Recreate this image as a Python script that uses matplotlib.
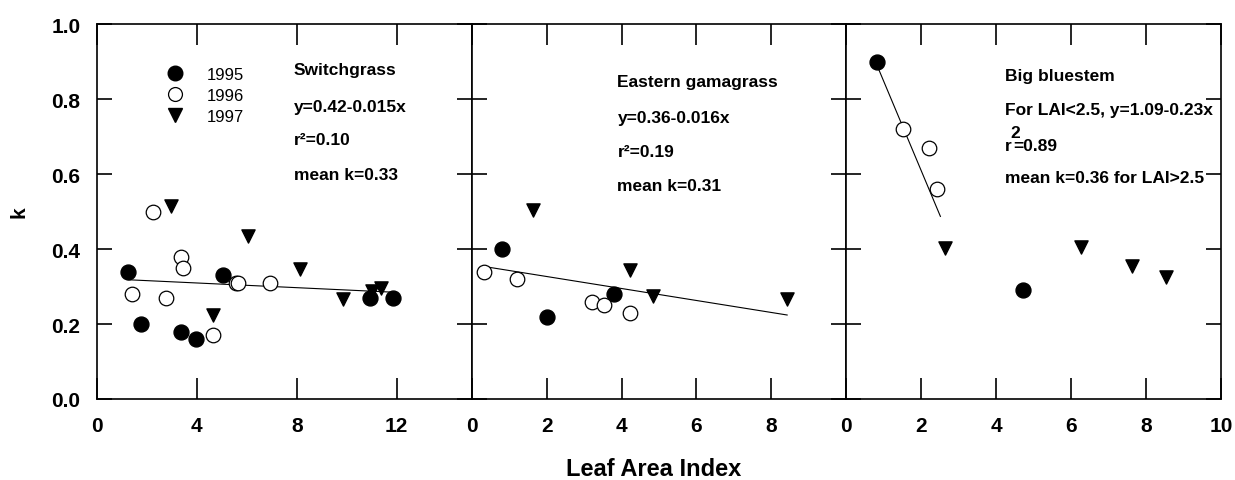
import matplotlib
matplotlib.use("Agg")
import matplotlib.pyplot as plt
from matplotlib.lines import Line2D

plt.rcParams['font.family'] = ['Liberation Sans', 'DejaVu Sans']

# Switchgrass
sg_x95 = [1.25, 1.75, 3.35, 3.96, 5.03, 10.92, 11.85]
sg_k95 = [0.34, 0.20, 0.18, 0.16, 0.33, 0.27, 0.27]
sg_x96 = [1.39, 2.25, 2.76, 3.35, 3.45, 4.65, 5.55, 5.65, 6.92]
sg_k96 = [0.28, 0.50, 0.27, 0.38, 0.35, 0.17, 0.31, 0.31, 0.31]
sg_x97 = [2.96, 4.65, 6.05, 8.12, 9.85, 11.0, 11.36]
sg_k97 = [0.515, 0.225, 0.435, 0.347, 0.267, 0.288, 0.297]
sg_fit_x = [1.25, 11.8]
sg_fit_k = [0.318, 0.285]

# Eastern gamagrass
eg_x95 = [0.82, 2.02, 3.81]
eg_k95 = [0.40, 0.22, 0.28]
eg_x96 = [0.32, 1.21, 3.22, 3.53, 4.22]
eg_k96 = [0.34, 0.32, 0.26, 0.25, 0.23]
eg_x97 = [1.64, 4.23, 4.84, 8.42]
eg_k97 = [0.505, 0.345, 0.275, 0.267]
eg_fit_x = [0.48, 8.42]
eg_fit_k = [0.351, 0.224]

# Big bluestem
bb_x95 = [0.82, 4.72]
bb_k95 = [0.90, 0.29]
bb_x96 = [1.52, 2.20, 2.41]
bb_k96 = [0.72, 0.67, 0.56]
bb_x97 = [2.62, 6.25, 7.63, 8.52]
bb_k97 = [0.404, 0.405, 0.354, 0.325]
bb_fit_x = [0.86, 2.51]
bb_fit_k = [0.88, 0.487]

years = ['1995', '1996', '1997']

panels = [
    dict(x95=sg_x95, k95=sg_k95, x96=sg_x96, k96=sg_k96, x97=sg_x97, k97=sg_k97,
         fx=sg_fit_x, fk=sg_fit_k, xlim=15, xticks=[0, 4, 8, 12]),
    dict(x95=eg_x95, k95=eg_k95, x96=eg_x96, k96=eg_k96, x97=eg_x97, k97=eg_k97,
         fx=eg_fit_x, fk=eg_fit_k, xlim=10, xticks=[0, 2, 4, 6, 8]),
    dict(x95=bb_x95, k95=bb_k95, x96=bb_x96, k96=bb_k96, x97=bb_x97, k97=bb_k97,
         fx=bb_fit_x, fk=bb_fit_k, xlim=10, xticks=[0, 2, 4, 6, 8, 10]),
]

fig, axes = plt.subplots(1, 3, figsize=(12.35, 4.81), dpi=100)
fig.subplots_adjust(left=0.0785, right=0.9887, top=0.948, bottom=0.1684, wspace=0)

for i, (ax, p) in enumerate(zip(axes, panels)):
    ax.plot(p['fx'], p['fk'], color='black', lw=0.8, zorder=2)
    ax.scatter(p['x95'], p['k95'], s=115, marker='o', c='black', zorder=3)
    ax.scatter(p['x96'], p['k96'], s=110, marker='o', facecolors='white',
               edgecolors='black', linewidths=0.9, zorder=3)
    ax.scatter(p['x97'], p['k97'], s=90, marker='v', c='black', zorder=3)
    ax.set_xlim(0, p['xlim'])
    ax.set_ylim(0, 1.0)
    ax.set_xticks(p['xticks'])
    ax.set_yticks([0, 0.2, 0.4, 0.6, 0.8, 1.0])
    ax.tick_params(axis='x', direction='in', top=True, bottom=True, length=15,
                   width=1.2, pad=12, labelsize=15)
    ax.tick_params(axis='y', direction='in', left=True, right=True, length=11,
                   width=1.2, pad=12, labelsize=15)
    for lab in ax.get_xticklabels() + ax.get_yticklabels():
        lab.set_fontweight('bold')
    for sp in ax.spines.values():
        sp.set_linewidth(1.2)
    if i > 0:
        ax.tick_params(axis='y', labelleft=False)

axes[0].yaxis.set_ticklabels(['0.0', '0.2', '0.4', '0.6', '0.8', '1.0'])
axes[0].set_ylabel('k', fontsize=15, fontweight='bold', labelpad=16)

txt = dict(fontsize=12.5, fontweight='bold', va='center', ha='left')

a = axes[0]
a.text(0.525, 0.88, 'Switchgrass', transform=a.transAxes, **txt)
a.text(0.525, 0.781, 'y=0.42-0.015x', transform=a.transAxes, **txt)
a.text(0.525, 0.693, 'r\u00b2=0.10', transform=a.transAxes, **txt)
a.text(0.525, 0.60, 'mean k=0.33', transform=a.transAxes, **txt)

handles = [
    Line2D([], [], ls='none', marker='o', ms=10.5, mfc='black', mec='black'),
    Line2D([], [], ls='none', marker='o', ms=10, mfc='white', mec='black', mew=0.9),
    Line2D([], [], ls='none', marker='v', ms=9.5, mfc='black', mec='black'),
]
a.legend(handles, years, loc='upper left', bbox_to_anchor=(0.16, 0.908),
         frameon=False, fontsize=12, handlelength=1.2, handletextpad=1.3,
         labelspacing=0.36, borderpad=0)

a = axes[1]
a.text(0.389, 0.846, 'Eastern gamagrass', transform=a.transAxes, **txt)
a.text(0.389, 0.752, 'y=0.36-0.016x', transform=a.transAxes, **txt)
a.text(0.389, 0.659, 'r\u00b2=0.19', transform=a.transAxes, **txt)
a.text(0.389, 0.569, 'mean k=0.31', transform=a.transAxes, **txt)

a = axes[2]
a.text(0.424, 0.864, 'Big bluestem', transform=a.transAxes, **txt)
a.text(0.424, 0.773, 'For LAI<2.5, y=1.09-0.23x', transform=a.transAxes, **txt)
a.text(0.424, 0.676, 'r', transform=a.transAxes, **txt)
a.annotate('2', xy=(0.424, 0.676), xycoords='axes fraction', xytext=(4.0, 9.5),
           textcoords='offset points', **txt)
a.annotate('=0.89', xy=(0.424, 0.676), xycoords='axes fraction', xytext=(5.5, 0),
           textcoords='offset points', **txt)
a.text(0.424, 0.592, 'mean k=0.36 for LAI>2.5', transform=a.transAxes, **txt)

fig.text(0.5296, 0.023, 'Leaf Area Index', fontsize=17, fontweight='bold',
         ha='center', va='center')

fig.savefig('out.png', dpi=100)
